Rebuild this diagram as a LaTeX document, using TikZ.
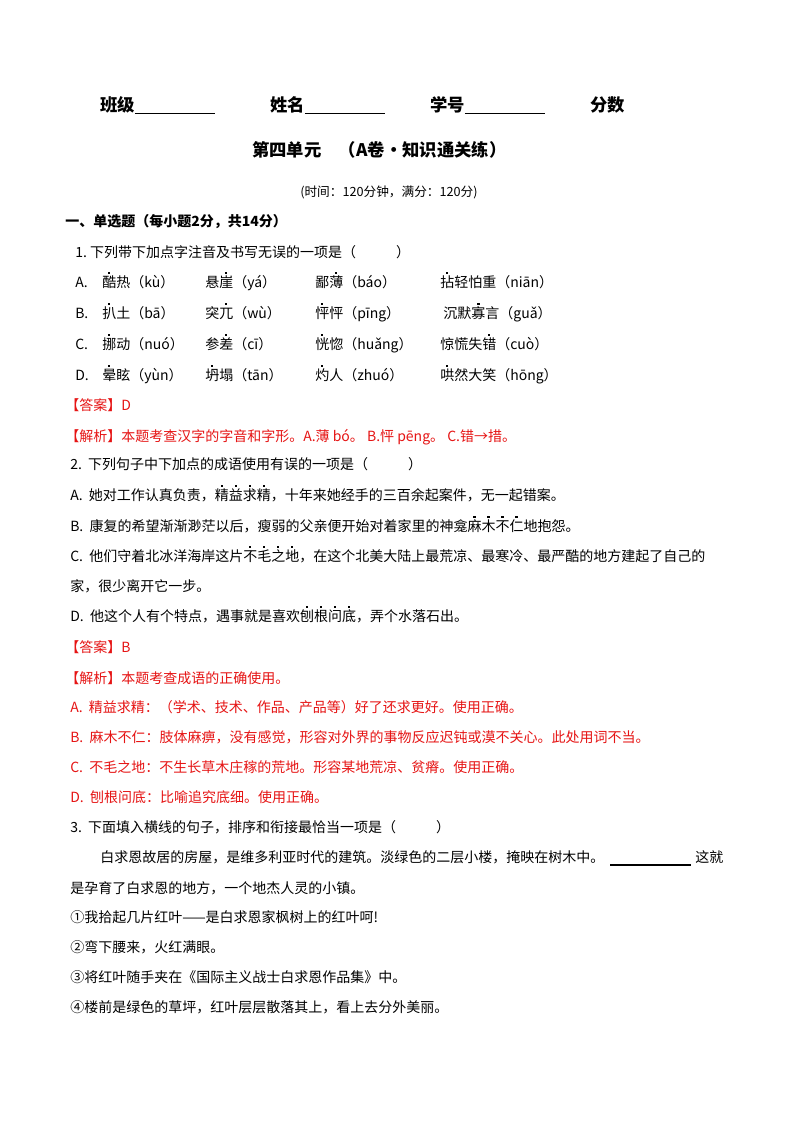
\documentclass[tikz,border=0pt]{standalone}
\usepackage{fontspec}
\setmainfont{Liberation Serif}
\newfontfamily\cjk{Noto Sans CJK SC}
\newcommand\dt[1]{\setbox0\hbox{#1}\rlap{\hbox to \wd0{\hss\raisebox{1.0em}{\rule{1.7pt}{1.7pt}}\hss}}\box0}
\definecolor{ared}{RGB}{230,20,20}
\begin{document}
\begin{tikzpicture}[x=0.75pt,y=-0.75pt,
 t/.style={anchor=base west,yshift=-3.6pt,inner sep=0pt,font=\cjk\fontsize{10.5pt}{12pt}\selectfont},
 r/.style={t,text=ared},
 h/.style={anchor=west,inner sep=0pt,font=\cjk\bfseries\fontsize{13pt}{15pt}\selectfont}]
\useasboundingbox[fill=white] (0,0) rectangle (800,1132);
\node[h] (n1) at (100,105) {班级\underline{\hspace{60pt}}};
\node[h] (n2) at (270,105) {姓名\underline{\hspace{60pt}}};
\node[h] (n3) at (430,105) {学号\underline{\hspace{60pt}}};
\node[h] (n4) at (590,105) {分数};
\node[h] (ti) at (252,150) {第四单元\quad （A卷·知识通关练）};
\node[t,font=\cjk\fontsize{9.5pt}{11pt}\selectfont] (tm) at (300,192) {(时间：120分钟，满分：120分)};
\node[t,font=\cjk\bfseries\fontsize{10.5pt}{12pt}\selectfont] (s1) at (65,222) {一、单选题（每小题2分，共14分）};
\node[t] (q1) at (75,253) {1.\ 下列带下加点字注音及书写无误的一项是（\hspace{30pt}）};
\foreach \y/\a/\b/\c/\d/\e in {
 283/A./\dt{酷}热（kù）/悬\dt{崖}（yá）/鄙\dt{薄}（báo）/\dt{拈}轻怕重（niān）,
 314/B./\dt{扒}土（bā）/突\dt{兀}（wù）/\dt{怦}怦（pīng）/\ 沉默\dt{寡}言（guǎ）,
 345/C./\dt{挪}动（nuó）/参\dt{差}（cī）/\dt{恍}惚（huǎng）/惊慌失\dt{错}（cuò）,
 376/D./\dt{晕}眩（yùn）/\dt{坍}塌（tān）/\dt{灼}人（zhuó）/\dt{哄}然大笑（hōng）}{
 \node[t] (a\y) at (75,\y) {\a};
 \node[t] (b\y) at (102,\y) {\b};
 \node[t] (c\y) at (205,\y) {\c};
 \node[t] (d\y) at (315,\y) {\d};
 \node[t] (e\y) at (440,\y) {\e};
}
\node[r] (an1) at (65,406) {【答案】D};
\node[r] (jx1) at (65,437) {【解析】本题考查汉字的字音和字形。A.薄 bó。\ B.怦 pēng。\ C.错→措。};
\node[t] (q2) at (70,465) {2.\ \ 下列句子中下加点的成语使用有误的一项是（\hspace{30pt}）};
\node[t] (q2a) at (70,496) {A.\ \ 她对工作认真负责，\dt{精}\dt{益}\dt{求}\dt{精}，十年来她经手的三百余起案件，无一起错案。};
\node[t] (q2b) at (70,527) {B.\ \ 康复的希望渐渐渺茫以后，瘦弱的父亲便开始对着家里的神龛\dt{麻}\dt{木}\dt{不}\dt{仁}地抱怨。};
\node[t] (q2c) at (70,557) {C.\ \ 他们守着北冰洋海岸这片\dt{不}\dt{毛}\dt{之}\dt{地}，在这个北美大陆上最荒凉、最寒冷、最严酷的地方建起了自己的};
\node[t] (q2c2) at (70,587) {家，很少离开它一步。};
\node[t] (q2d) at (70,617) {D.\ \ 他这个人有个特点，遇事就是喜欢\dt{刨}\dt{根}\dt{问}\dt{底}，弄个水落石出。};
\node[r] (an2) at (65,648) {【答案】B};
\node[r] (jx2) at (65,679) {【解析】本题考查成语的正确使用。};
\node[r] (r1) at (70,708) {A.\ \ 精益求精：（学术、技术、作品、产品等）好了还求更好。使用正确。};
\node[r] (r2) at (70,738) {B.\ \ 麻木不仁：肢体麻痹，没有感觉，形容对外界的事物反应迟钝或漠不关心。此处用词不当。};
\node[r] (r3) at (70,768) {C.\ \ 不毛之地：不生长草木庄稼的荒地。形容某地荒凉、贫瘠。使用正确。};
\node[r] (r4) at (70,798) {D.\ \ 刨根问底：比喻追究底细。使用正确。};
\node[t] (q3) at (70,828) {3.\ \ 下面填入横线的句子，排序和衔接最恰当一项是（\hspace{30pt}）};
\node[t] (p1) at (100,858) {白求恩故居的房屋，是维多利亚时代的建筑。淡绿色的二层小楼，掩映在树木中。};
\node[t] (p1b) at (695,858) {这就};
\coordinate (l1) at (610,865); \coordinate (l2) at (691,865);
\draw[line width=0.8pt] (l1) -- (l2);
\node[t] (p2) at (70,889) {是孕育了白求恩的地方，一个地杰人灵的小镇。};
\node[t] (o1) at (70,918) {①我拾起几片红叶——是白求恩家枫树上的红叶呵!};
\node[t] (o2) at (70,948) {②弯下腰来，火红满眼。};
\node[t] (o3) at (70,978) {③将红叶随手夹在《国际主义战士白求恩作品集》中。};
\node[t] (o4) at (70,1008) {④楼前是绿色的草坪，红叶层层散落其上，看上去分外美丽。};
\end{tikzpicture}
\end{document}
